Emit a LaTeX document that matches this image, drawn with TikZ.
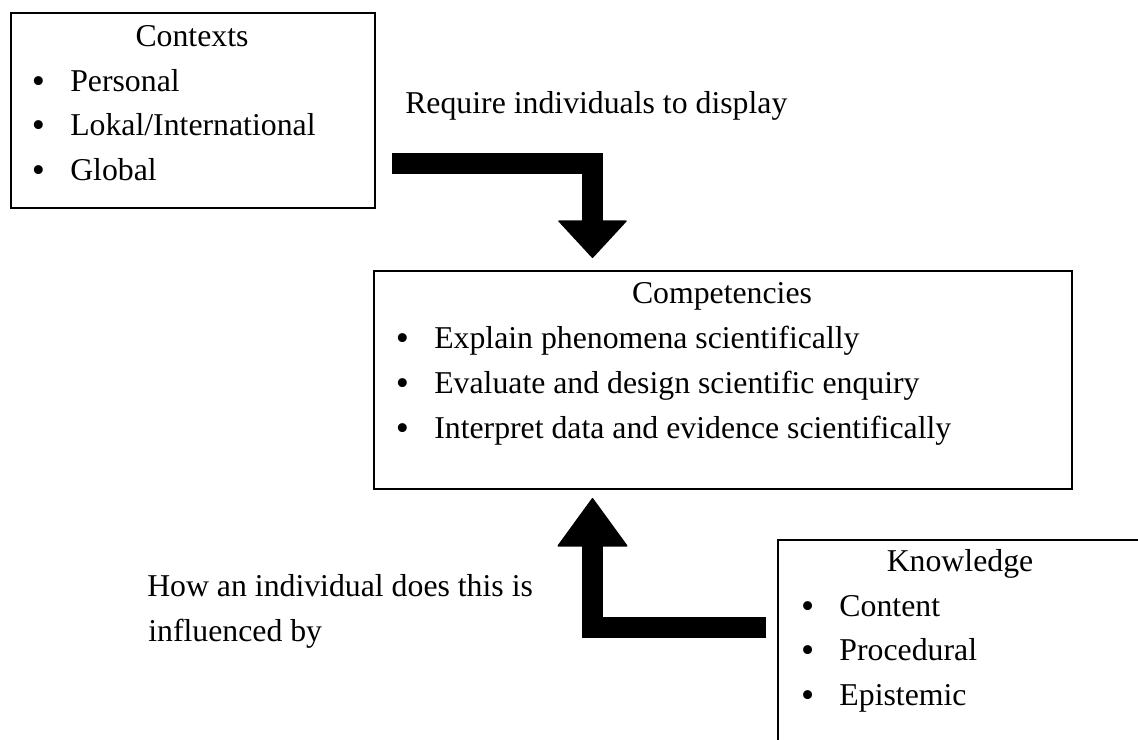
\documentclass[tikz,border=0pt]{standalone}
\usepackage{fontspec}
\setmainfont{Liberation Serif}
\usetikzlibrary{arrows.meta}
\newcommand{\itm}[1]{\makebox[0.96cm][l]{\raisebox{-0.08em}{\scalebox{1.18}{\textbullet}}}#1}

\begin{document}
\begin{tikzpicture}[line cap=butt,
  box/.style={draw,line width=1.1pt,inner sep=0pt,anchor=north west},
  txt/.style={inner sep=0pt,anchor=mid west,font=\fontsize{22.6}{27}\selectfont},
  head/.style={inner sep=0pt,anchor=mid,font=\fontsize{22.6}{27}\selectfont},
  bigarrow/.style={line width=0.52cm}]
\useasboundingbox (0,0) rectangle (28.45,18.5);
\clip (0,0) rectangle (28.45,18.5);
% boxes
\node[box,minimum width=9.1cm,minimum height=4.875cm] (ctx) at (0.25,18.2) {};
\node[box,minimum width=17.45cm,minimum height=5.45cm] (comp) at (9.325,11.75) {};
\node[box,minimum width=9.3cm,minimum height=6cm] (know) at (19.425,5.025) {};
% contexts
\node[head] (ctxhead) at (4.8,17.425) {Contexts};
\node[txt] (ctx1) at (0.79,16.3) {\itm{Personal}};
\node[txt] (ctx2) at (0.79,15.2) {\itm{Lokal/International}};
\node[txt] (ctx3) at (0.79,14.075) {\itm{Global}};
% competencies
\node[head] (comphead) at (18.05,11.0) {Competencies};
\node[txt] (comp1) at (9.89,9.875) {\itm{Explain phenomena scientifically}};
\node[txt] (comp2) at (9.89,8.75) {\itm{Evaluate and design scientific enquiry}};
\node[txt] (comp3) at (9.89,7.625) {\itm{Interpret data and evidence scientifically}};
% knowledge
\node[head] (knowhead) at (24.0,4.3) {Knowledge};
\node[txt] (know1) at (20.02,3.175) {\itm{Content}};
\node[txt] (know2) at (20.02,2.075) {\itm{Procedural}};
\node[txt] (know3) at (20.02,0.95) {\itm{Epistemic}};
% labels
\node[txt] (req) at (10.125,15.75) {Require individuals to display};
\node[txt] (how1) at (3.675,3.675) {How an individual does this is};
\node[txt] (how2) at (3.7,2.55) {influenced by};
% arrows
\coordinate (reqstart) at (9.8,14.4125);
\coordinate (reqend) at (14.8125,12.05);
\coordinate (howstart) at (19.15,2.8125);
\coordinate (howend) at (14.8125,6.05);
\draw[bigarrow,-{Triangle[length=0.95cm,width=1.75cm,line width=1pt,round]}] (reqstart) -| (reqend);
\draw[bigarrow,-{Triangle[length=1.225cm,width=1.775cm,line width=1pt,round]}] (howstart) -| (howend);
\end{tikzpicture}
\end{document}
